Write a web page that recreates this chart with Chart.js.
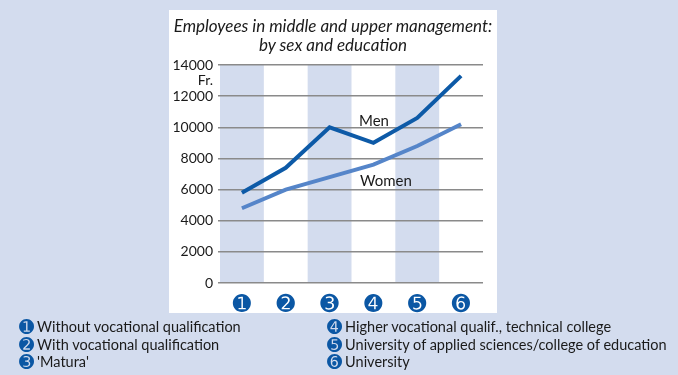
<!DOCTYPE html>
<html>
<head>
<meta charset="utf-8">
<script src="https://cdn.jsdelivr.net/npm/chart.js@4.4.0/dist/chart.umd.min.js"></script>
<style>
  html, body { margin: 0; padding: 0; }
  body { width: 678px; height: 375px; background: #d3dcee; position: relative; overflow: hidden; font-family: Lato, "Noto Sans", sans-serif; color: #1a1a1a; }
  #panel { position: absolute; left: 169px; top: 10px; width: 328px; height: 303px; background: #fff; }
  #wrap { position: absolute; left: 0; top: 0; width: 678px; height: 375px; }
  .txt { position: absolute; white-space: nowrap; }
  #title { left: 169px; width: 328px; top: 16px; text-align: center; font-style: italic; font-size: 17px; line-height: 19px; }
  #fr { left: 170px; width: 43px; text-align: right; top: 71px; font-size: 14px; }
  .lbl { font-size: 15px; }
  .leg { font-size: 14.5px; line-height: 17.5px; }
  .leg div { height: 17.5px; }
  .leg span.n { font-family: "DejaVu Sans"; color: #0b57a4; font-size: 18px; margin-right: 3px; vertical-align: -1px; line-height: 17px; }
</style>
</head>
<body>
<div id="panel"></div>
<div id="wrap"><canvas id="chart" width="678" height="375"></canvas></div>
<div class="txt" id="title">Employees in middle and upper management:<br>by sex and education</div>
<div class="txt" id="fr">Fr.</div>
<div class="txt lbl" style="left:359px;top:111px">Men</div>
<div class="txt lbl" style="left:360px;top:171px">Women</div>
<div class="txt leg" id="legL" style="left:19px;top:318px"></div>
<div class="txt leg" id="legR" style="left:327px;top:318px"></div>
<script>
var categories = ["➊", "➋", "➌", "➍", "➎", "➏"];
var menValues = [5800, 7400, 10000, 9000, 10600, 13300];
var womenValues = [4800, 6000, 6800, 7600, 8800, 10200];
var yTicks = [0, 2000, 4000, 6000, 8000, 10000, 12000, 14000];
var educationLabels = [
    "Without vocational qualification",
    "With vocational qualification",
    "'Matura'",
    "Higher vocational qualif., technical college",
    "University of applied sciences/college of education",
    "University"
];

// legend below the panel
function fillLegend(el, from, to) {
    var html = "";
    for (var i = from; i < to; i++) {
        html += '<div><span class="n">' + categories[i] + '</span>' + educationLabels[i] + '</div>';
    }
    el.innerHTML = html;
}
fillLegend(document.getElementById("legL"), 0, 3);
fillLegend(document.getElementById("legR"), 3, 6);

// alternating light blue column bands
var stripes = {
    id: "stripes",
    beforeDraw: function (chart) {
        var ctx = chart.ctx, x = chart.scales.x, area = chart.chartArea;
        var w = (area.right - area.left) / categories.length;
        ctx.save();
        ctx.fillStyle = "#d3dcee";
        for (var i = 0; i < categories.length; i += 2) {
            var cx = x.getPixelForValue(i);
            ctx.fillRect(cx - w / 2, area.top, w, area.bottom - area.top);
        }
        ctx.restore();
    }
};

new Chart("chart", {
    type: "line",
    data: {
        labels: categories,
        datasets: [{
            label: "Men",
            data: menValues,
            borderColor: "#0d5aa7",
            borderWidth: 4,
            pointRadius: 0,
            tension: 0
        }, {
            label: "Women",
            data: womenValues,
            borderColor: "#5585c9",
            borderWidth: 4,
            pointRadius: 0,
            tension: 0
        }]
    },
    options: {
        responsive: false,
        animation: false,
        layout: { padding: { left: 170, right: 195, top: 65, bottom: 62 } },
        plugins: {
            legend: { display: false },
            tooltip: { enabled: false }
        },
        scales: {
            x: {
                offset: true,
                grid: { display: false },
                border: { display: false },
                ticks: { color: "#0b57a4", padding: 1, font: { family: "DejaVu Sans", size: 22 } },
                afterFit: function (s) { s.height = 30; }
            },
            y: {
                min: 0,
                max: 14000,
                afterBuildTicks: function (s) { s.ticks = yTicks.map(function (v) { return { value: v }; }); },
                grid: { color: "#8a8a8a", lineWidth: 1.5, tickLength: 2 },
                border: { display: false },
                ticks: {
                    color: "#1a1a1a", padding: 5, font: { family: "Lato", size: 14 },
                    callback: function (v) { return String(v); }
                },
                afterFit: function (s) { s.width = 50; }
            }
        }
    },
    plugins: [stripes]
});
</script>
</body>
</html>
